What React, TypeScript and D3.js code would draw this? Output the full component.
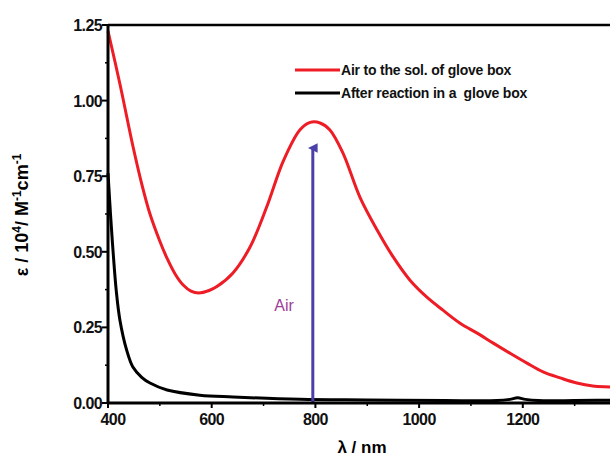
import React, { useEffect, useRef } from 'react';
import * as d3 from 'd3';

// wavelength (nm) and epsilon (10^4 M^-1 cm^-1)
const airWavelength = [400, 423, 448, 465, 481, 500, 514, 530, 545, 560, 575, 595, 610, 641, 674, 706, 738, 770, 790, 809, 828, 853, 886, 919, 950, 982, 1015, 1046, 1079, 1112, 1143, 1175, 1208, 1239, 1272, 1304, 1335, 1368, 1400];
const airEpsilon = [1.23, 1.055, 0.85, 0.725, 0.625, 0.535, 0.478, 0.425, 0.39, 0.37, 0.364, 0.372, 0.385, 0.43, 0.516, 0.648, 0.80, 0.903, 0.928, 0.926, 0.903, 0.827, 0.68, 0.572, 0.483, 0.407, 0.35, 0.307, 0.264, 0.231, 0.198, 0.165, 0.132, 0.103, 0.083, 0.066, 0.056, 0.053, 0.05];

const gloveWavelength = [400, 405, 410, 416, 423, 436, 448, 465, 481, 514, 577, 641, 770, 900, 1050, 1150, 1175, 1190, 1205, 1230, 1300, 1400];
const gloveEpsilon = [0.76, 0.62, 0.496, 0.37, 0.274, 0.175, 0.119, 0.085, 0.066, 0.043, 0.026, 0.02, 0.012, 0.01, 0.008, 0.008, 0.012, 0.017, 0.012, 0.008, 0.008, 0.01];

const xTicks = [400, 600, 800, 1000, 1200];
const xMinorTicks = [500, 700, 900, 1100, 1300];
const yTicks = [0, 0.25, 0.5, 0.75, 1.0, 1.25];
const yMinorTicks = [0.125, 0.375, 0.625, 0.875, 1.125];

const legendLabels = ['Air to the sol. of glove box', 'After reaction in a  glove box'];
const legendColors = ['#ee1c25', '#000000'];
const arrowAt = 795;

const App = () => {
  const ref = useRef<SVGSVGElement>(null);

  useEffect(() => {
    const svg = d3.select(ref.current);
    svg.selectAll('*').remove();

    const left = 108, top = 25, bottom = 403;
    const x = d3.scaleLinear().domain([400, 1400]).range([left, left + 518.5]);
    const y = d3.scaleLinear().domain([0, 1.25]).range([bottom, top]);

    const font = 'Arial, "Liberation Sans", sans-serif';

    const line = d3.line<[number, number]>()
      .x(d => x(d[0]))
      .y(d => y(d[1]))
      .curve(d3.curveCatmullRom.alpha(0.5));

    const g = svg.append('g');

    // top frame
    g.append('line')
      .attr('x1', left).attr('x2', 620)
      .attr('y1', top).attr('y2', top)
      .attr('stroke', '#000').attr('stroke-width', 2.5);

    // curves
    g.append('path')
      .datum(gloveWavelength.map((w, i) => [w, gloveEpsilon[i]] as [number, number]))
      .attr('d', line)
      .attr('fill', 'none')
      .attr('stroke', '#000')
      .attr('stroke-width', 3);

    g.append('path')
      .datum(airWavelength.map((w, i) => [w, airEpsilon[i]] as [number, number]))
      .attr('d', line)
      .attr('fill', 'none')
      .attr('stroke', legendColors[0])
      .attr('stroke-width', 3);

    // arrow
    svg.append('defs').append('marker')
      .attr('id', 'arrowHead')
      .attr('viewBox', '0 0 10 10')
      .attr('refX', 5).attr('refY', 5)
      .attr('markerWidth', 3.2).attr('markerHeight', 4.5)
      .attr('markerUnits', 'strokeWidth')
      .attr('orient', 'auto')
      .append('path')
      .attr('d', 'M0,10 L5,0 L10,10 Z')
      .attr('fill', '#4a40a8');

    g.append('line')
      .attr('x1', x(arrowAt)).attr('x2', x(arrowAt))
      .attr('y1', bottom).attr('y2', 148)
      .attr('stroke', '#4a40a8').attr('stroke-width', 3)
      .attr('marker-end', 'url(#arrowHead)');

    g.append('text')
      .attr('x', 284).attr('y', 311)
      .attr('text-anchor', 'middle')
      .attr('font-family', font)
      .attr('font-size', 16)
      .attr('fill', '#a03c98')
      .text('Air');

    // x axis
    const xAxis = g.append('g').attr('transform', `translate(0,${bottom})`);
    xAxis.append('line')
      .attr('x1', left).attr('x2', 620)
      .attr('stroke', '#000').attr('stroke-width', 3);
    xAxis.selectAll('.xt').data(xTicks).enter().append('line')
      .attr('x1', d => x(d)).attr('x2', d => x(d))
      .attr('y1', 0).attr('y2', 5)
      .attr('stroke', '#000').attr('stroke-width', 2);
    xAxis.selectAll('.xm').data(xMinorTicks).enter().append('line')
      .attr('x1', d => x(d)).attr('x2', d => x(d))
      .attr('y1', 0).attr('y2', 3)
      .attr('stroke', '#000').attr('stroke-width', 1.5);
    xAxis.selectAll('.xl').data(xTicks).enter().append('text')
      .attr('x', d => x(d) + (d === 400 ? 5 : 0))
      .attr('y', 22)
      .attr('text-anchor', 'middle')
      .attr('font-family', font)
      .attr('font-weight', 'bold')
      .attr('font-size', 16)
      .attr('letter-spacing', -0.6)
      .attr('fill', '#111')
      .text(d => d);

    // y axis
    const yAxis = g.append('g').attr('transform', `translate(${left},0)`);
    yAxis.append('line')
      .attr('y1', top - 1).attr('y2', bottom + 1)
      .attr('stroke', '#000').attr('stroke-width', 3);
    yAxis.selectAll('.yt').data(yTicks).enter().append('line')
      .attr('x1', -6).attr('x2', 0)
      .attr('y1', d => y(d)).attr('y2', d => y(d))
      .attr('stroke', '#000').attr('stroke-width', 2);
    yAxis.selectAll('.ym').data(yMinorTicks).enter().append('line')
      .attr('x1', -3).attr('x2', 0)
      .attr('y1', d => y(d)).attr('y2', d => y(d))
      .attr('stroke', '#000').attr('stroke-width', 1.5);
    yAxis.selectAll('.yl').data(yTicks).enter().append('text')
      .attr('x', -6)
      .attr('y', d => y(d) + 6)
      .attr('text-anchor', 'end')
      .attr('font-family', font)
      .attr('font-weight', 'bold')
      .attr('font-size', 16)
      .attr('letter-spacing', -0.6)
      .attr('fill', '#111')
      .text(d => d3.format('.2f')(d));

    // axis titles
    g.append('text')
      .attr('x', 362).attr('y', 453)
      .attr('text-anchor', 'middle')
      .attr('font-family', font)
      .attr('font-weight', 'bold')
      .attr('font-size', 17)
      .text('λ / nm');

    const yTitle = g.append('text')
      .attr('transform', 'translate(28,215) rotate(-90)')
      .attr('text-anchor', 'middle')
      .attr('font-family', font)
      .attr('font-weight', 'bold')
      .attr('font-size', 18);
    yTitle.append('tspan').text('ε / 10');
    yTitle.append('tspan').attr('dy', -7).attr('font-size', 12).text('4');
    yTitle.append('tspan').attr('dy', 7).text('/ M');
    yTitle.append('tspan').attr('dy', -7).attr('font-size', 12).text('-1');
    yTitle.append('tspan').attr('dy', 7).text('cm');
    yTitle.append('tspan').attr('dy', -7).attr('font-size', 12).text('-1');

    // legend
    const legend = g.append('g');
    legendLabels.forEach((label, i) => {
      const ly = 70 + i * 23;
      legend.append('line')
        .attr('x1', 295).attr('x2', 340)
        .attr('y1', ly).attr('y2', ly)
        .attr('stroke', legendColors[i]).attr('stroke-width', 3);
      legend.append('text')
        .attr('x', 341).attr('y', ly + 5)
        .attr('font-family', font)
        .attr('font-weight', 'bold')
        .attr('font-size', 14)
        .attr('letter-spacing', -0.2)
        .attr('fill', '#111')
        .style('white-space', 'pre')
        .text(label);
    });
  }, []);

  return (
    <div style={{ position: 'absolute', left: 0, top: 0, background: '#fff' }}>
      <svg ref={ref} width={610} height={457} style={{ display: 'block' }}></svg>
    </div>
  );
};

export default App;
